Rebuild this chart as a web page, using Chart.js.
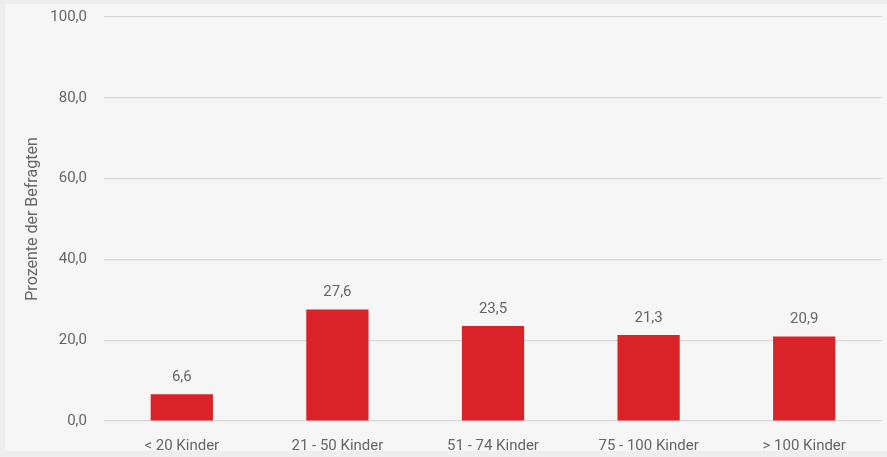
<!DOCTYPE html>
<html>
<head>
<meta charset="utf-8">
<script src="https://cdn.jsdelivr.net/npm/chart.js@4/dist/chart.umd.min.js"></script>
<style>
  body { margin: 0; background: #eeeeee; width: 887px; height: 457px; overflow: hidden; }
  #panel { position: absolute; left: 5px; top: 4px; width: 882px; height: 447px; background: #f6f6f6; }
  canvas { display: block; }
</style>
</head>
<body>
<div id="panel"><canvas id="chart" width="882" height="447"></canvas></div>
<script>
// Daten aus der Grafik
const kategorien = ["< 20 Kinder", "21 - 50 Kinder", "51 - 74 Kinder", "75 - 100 Kinder", "> 100 Kinder"];
const prozente = [6.6, 27.6, 23.5, 21.3, 20.9];
const yTicks = [0, 20, 40, 60, 80, 100];

const textFarbe = "#666666";
const schrift = "Roboto, 'Noto Sans', sans-serif";

function komma(v, stellen) {
  return v.toFixed(stellen).replace(".", ",");
}

// Werte über den Balken
const wertLabels = {
  id: "wertLabels",
  afterDatasetsDraw(chart) {
    const ctx = chart.ctx;
    const meta = chart.getDatasetMeta(0);
    ctx.save();
    ctx.fillStyle = textFarbe;
    ctx.font = "15px " + schrift;
    ctx.textAlign = "center";
    ctx.textBaseline = "middle";
    meta.data.forEach((bar, i) => {
      ctx.fillText(komma(prozente[i], 1), bar.x, bar.y - 17);
    });
    ctx.restore();
  }
};

const ctx = document.getElementById("chart").getContext("2d");
new Chart(ctx, {
  type: "bar",
  data: {
    labels: kategorien,
    datasets: [{
      data: prozente,
      backgroundColor: "#da2229",
      barPercentage: 0.4,
      categoryPercentage: 1
    }]
  },
  options: {
    responsive: false,
    animation: false,
    layout: { padding: { left: 0, right: 5, top: 13, bottom: 0 } },
    plugins: {
      legend: { display: false },
      tooltip: { enabled: false }
    },
    scales: {
      x: {
        grid: { display: false, drawTicks: false },
        border: { display: false },
        ticks: { color: textFarbe, font: { family: schrift, size: 15 }, padding: 16, maxRotation: 0 },
        afterFit(scale) { scale.height = 30; }
      },
      y: {
        min: 0,
        max: 100,
        afterBuildTicks(scale) { scale.ticks = yTicks.map(v => ({ value: v })); },
        grid: { color: "#d8d8d8", lineWidth: 1.2, drawTicks: false },
        border: { display: false },
        ticks: {
          color: textFarbe,
          font: { family: schrift, size: 15 },
          padding: 17,
          callback: v => komma(v, 1)
        },
        title: {
          display: true,
          text: "Prozente der Befragten",
          color: textFarbe,
          font: { family: schrift, size: 16 },
          padding: { top: 18, bottom: 0 }
        },
        afterFit(scale) {
          scale.width = 99;
          scale.paddingTop = 0;
          scale.paddingBottom = 0;
        }
      }
    }
  },
  plugins: [wertLabels]
});
</script>
</body>
</html>
